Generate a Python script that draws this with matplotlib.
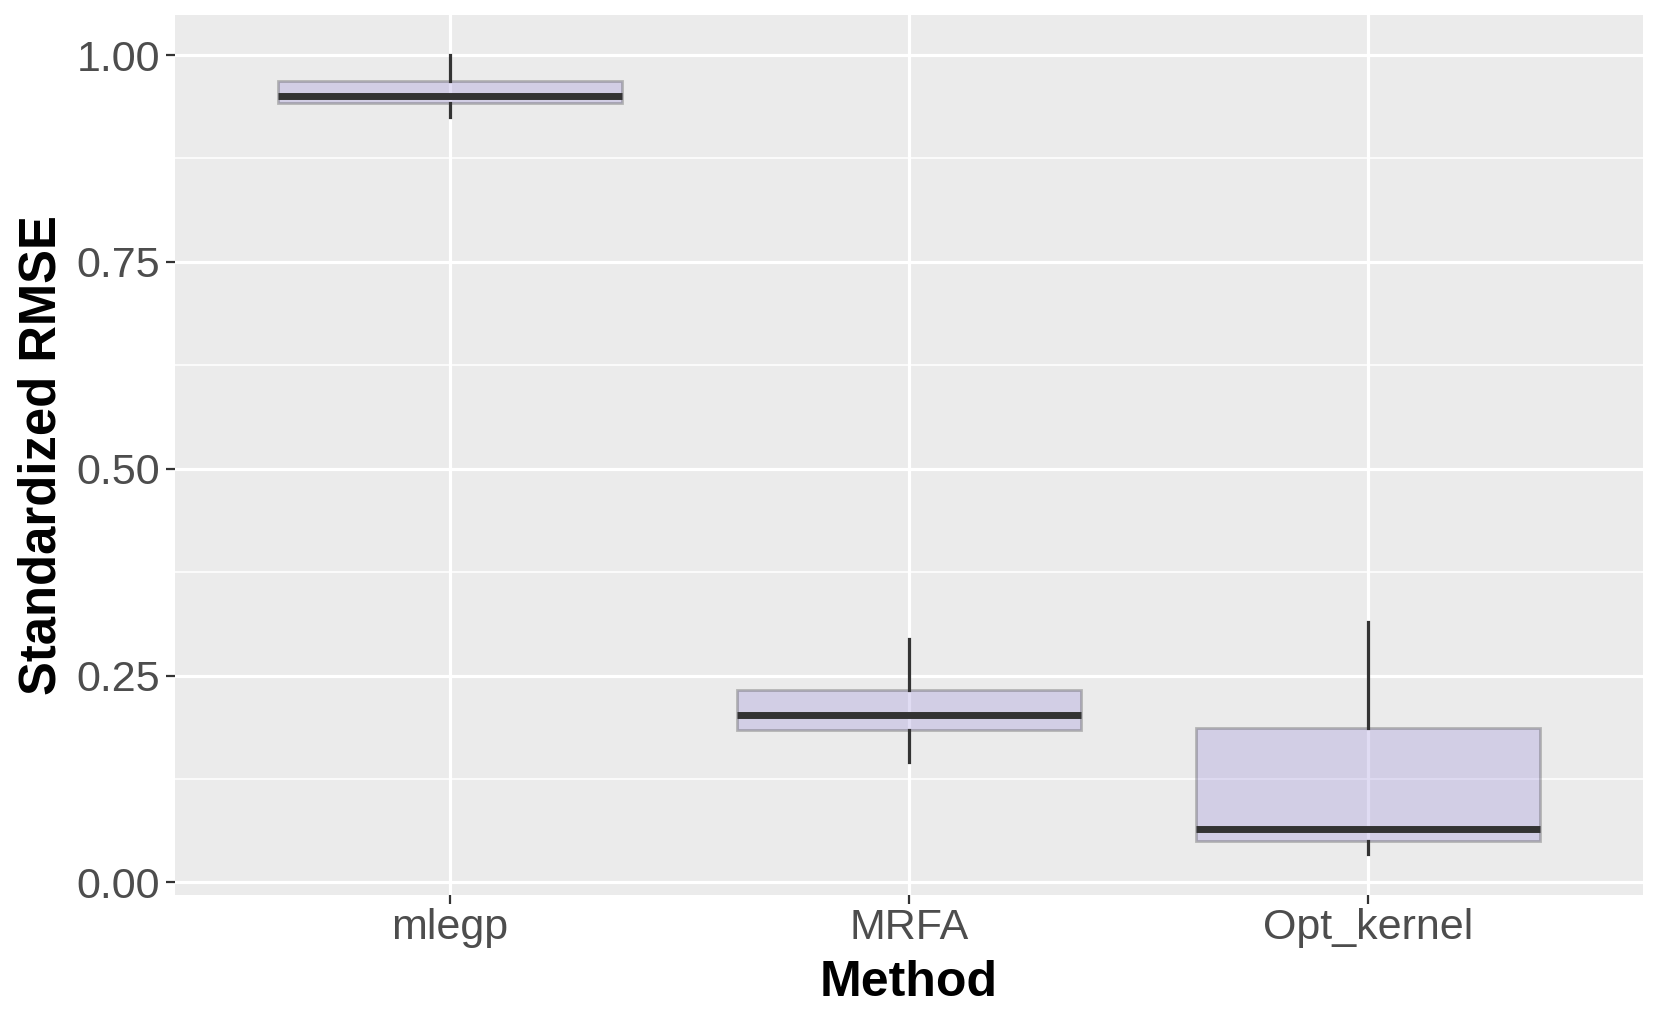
import numpy as np
import matplotlib
matplotlib.use("Agg")
import matplotlib.pyplot as plt

plt.rcParams['font.family'] = ['Liberation Sans', 'DejaVu Sans']

# data (box stats per method)
methods = ["mlegp", "MRFA", "Opt_kernel"]
whisker_low = [0.925, 0.146, 0.034]
q1 = [0.942, 0.184, 0.050]
median = [0.951, 0.202, 0.065]
q3 = [0.968, 0.232, 0.187]
whisker_high = [1.000, 0.294, 0.315]

stats = []
for i, m in enumerate(methods):
    stats.append(dict(label=m, whislo=whisker_low[i], q1=q1[i], med=median[i],
                      q3=q3[i], whishi=whisker_high[i]))

W, H = 1661, 1025
fig = plt.figure(figsize=(W / 100, H / 100), dpi=100)
fig.patch.set_facecolor("white")

# panel placement in pixels
left, right, top, bottom = 174.8, 1643, 14.8, 895
ax = fig.add_axes([left / W, 1 - bottom / H, (right - left) / W, (bottom - top) / H])
ax.set_facecolor("#EBEBEB")
for s in ax.spines.values():
    s.set_visible(False)

# grid, ggplot style
ax.set_yticks([0, 0.25, 0.5, 0.75, 1.0])
ax.set_yticks([0.125, 0.375, 0.625, 0.875], minor=True)
ax.grid(which="major", color="white", linewidth=2.3)
ax.grid(which="minor", axis="y", color="white", linewidth=1.1)
ax.set_axisbelow(True)

pos = np.arange(1, len(methods) + 1)
ax.bxp(stats, positions=pos, widths=0.75, showcaps=False, showfliers=False,
       patch_artist=True,
       boxprops=dict(facecolor=(155 / 255, 142 / 255, 218 / 255, 0.3),
                     edgecolor=(0.2, 0.2, 0.2, 0.3), linewidth=2),
       whiskerprops=dict(color="#333333", linewidth=2.3),
       medianprops=dict(color="#333333", linewidth=5, solid_capstyle="butt"),
       zorder=3)

ax.set_xlim(0.4, 3.6)
ax.set_ylim(-0.0152, 1.0486)
ax.set_xticks(pos)
ax.set_xticklabels(methods)
ax.set_yticklabels(["0.00", "0.25", "0.50", "0.75", "1.00"])

ax.tick_params(which="major", length=6.5, width=1.6, color="#333333",
               labelsize=31, labelcolor="#4D4D4D", pad=4)
ax.tick_params(axis="x", pad=3)
ax.tick_params(which="minor", length=0)

fig.text(909 / W, 1 - 996 / H, "Method", fontsize=36, fontweight="bold",
         ha="center", va="baseline")
fig.text(56 / W, 1 - 455.5 / H, "Standardized RMSE", fontsize=36.5, fontweight="bold",
         rotation=90, rotation_mode="anchor", ha="center", va="baseline")

fig.savefig("out.png", dpi=100)
